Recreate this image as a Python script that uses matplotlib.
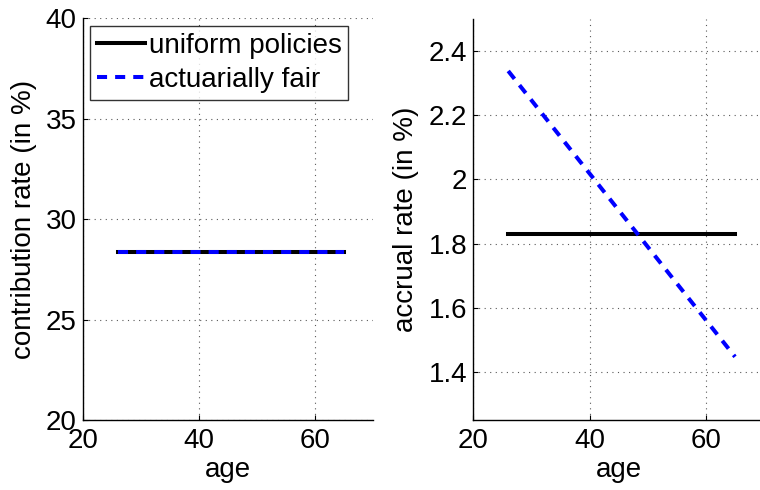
import numpy as np
import matplotlib.pyplot as plt

plt.rcParams['font.family'] = ['Liberation Sans', 'DejaVu Sans']

# ages covered by the policies
age = [26, 65]

# contribution rates (in %)
contrib_uniform = [28.38, 28.38]
contrib_fair = [28.38, 28.38]

# accrual rates (in %)
accrual_uniform = [1.831, 1.831]
accrual_fair = [2.338, 1.447]

fs = 20

fig = plt.figure(figsize=(7.6, 4.9), dpi=100)
ax1 = fig.add_axes([0.1088, 0.1429, 0.3826, 0.8198])
ax2 = fig.add_axes([0.6228, 0.1429, 0.3826, 0.8183])

dash = (2.5, 2.0)

ax1.plot(age, contrib_uniform, color='black', lw=2.9, label='uniform policies')
ax1.plot(age, contrib_fair, color='blue', lw=2.9, ls='--', dashes=dash,
         label='actuarially fair')
ax1.set_xlim(20, 70)
ax1.set_ylim(20, 40)
ax1.set_xticks([20, 40, 60])
ax1.set_yticks([20, 25, 30, 35, 40])
ax1.set_xlabel('age', fontsize=fs, labelpad=2)
ax1.set_ylabel('contribution rate (in %)', fontsize=fs, labelpad=6)
leg = ax1.legend(loc='upper left', bbox_to_anchor=(0.025, 0.981), fontsize=fs,
                 frameon=True, fancybox=False, edgecolor='black',
                 handlelength=1.73, handletextpad=0.13, borderpad=0.25,
                 labelspacing=0.3, borderaxespad=0)
leg.get_frame().set_linewidth(1.0)

ax2.plot(age, accrual_uniform, color='black', lw=2.9)
ax2.plot(age, accrual_fair, color='blue', lw=2.9, ls='--', dashes=dash)
ax2.set_xlim(20, 70)
ax2.set_ylim(1.25, 2.5)
ax2.set_xticks([20, 40, 60])
ax2.set_yticks([1.4, 1.6, 1.8, 2.0, 2.2, 2.4])
ax2.set_yticklabels(['1.4', '1.6', '1.8', '2', '2.2', '2.4'])
ax2.set_xlabel('age', fontsize=fs, labelpad=2)
ax2.set_ylabel('accrual rate (in %)', fontsize=fs, labelpad=7)

for ax in (ax1, ax2):
    ax.spines['top'].set_visible(False)
    ax.spines['right'].set_visible(False)
    ax.spines['left'].set_linewidth(1.0)
    ax.spines['bottom'].set_linewidth(1.0)
    ax.grid(True, color='0.35', ls=(0, (1, 4)), lw=0.8)
    ax.set_axisbelow(True)
    ax.tick_params(direction='in', length=3.5, labelsize=fs)
    ax.tick_params(axis='x', pad=6)
    ax.tick_params(axis='y', pad=4.5)

fig.savefig('out.png', dpi=100)
